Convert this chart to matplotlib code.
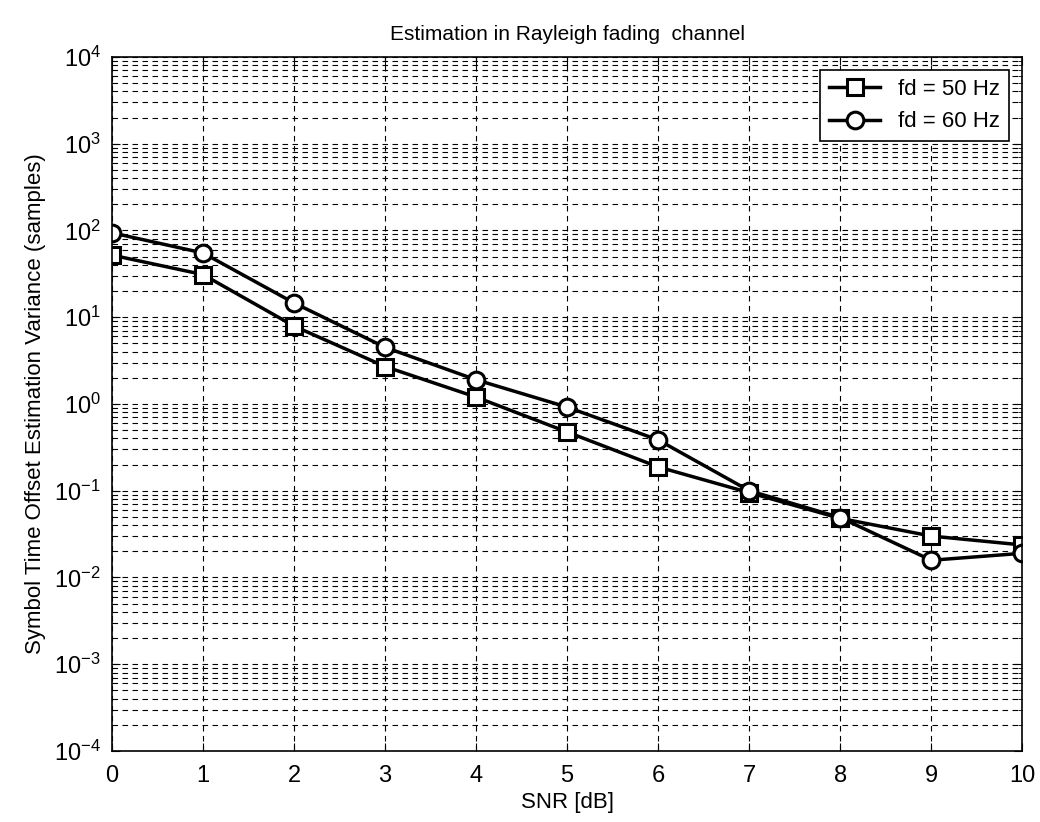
import matplotlib
matplotlib.use("Agg")
import matplotlib.pyplot as plt
from matplotlib.ticker import LogLocator, NullFormatter

plt.rcParams['font.family'] = ['Liberation Sans', 'DejaVu Sans']
plt.rcParams['mathtext.fontset'] = 'custom'
plt.rcParams['mathtext.rm'] = 'Liberation Sans'
plt.rcParams['mathtext.it'] = 'Liberation Sans'
plt.rcParams['mathtext.default'] = 'regular'

snr = [0, 1, 2, 3, 4, 5, 6, 7, 8, 9, 10]
var_fd50 = [52, 31, 7.9, 2.7, 1.2, 0.475, 0.188, 0.095, 0.048, 0.030, 0.0237]
var_fd60 = [94, 55, 14.6, 4.5, 1.9, 0.92, 0.385, 0.10, 0.049, 0.0158, 0.019]

fig = plt.figure(figsize=(10.4, 8.22), dpi=100)
ax = fig.add_axes([0.1077, 0.0864, 0.8753, 0.8443])

ax.semilogy(snr, var_fd50, color='black', lw=2.5, marker='s', ms=12,
            mfc='white', mew=2.2, label='fd = 50 Hz')
ax.semilogy(snr, var_fd60, color='black', lw=2.5, marker='o', ms=12,
            mfc='white', mew=2.2, label='fd = 60 Hz')

ax.set_xlim(0, 10)
ax.set_ylim(1e-4, 1e4)
ax.set_xticks(range(0, 11))
ax.yaxis.set_major_locator(LogLocator(base=10, numticks=20))
ax.yaxis.set_minor_locator(LogLocator(base=10, subs=range(2, 10), numticks=20))
ax.yaxis.set_minor_formatter(NullFormatter())

ax.grid(True, which='major', linestyle=(0, (5, 4)), color='black', lw=0.8)
ax.grid(True, which='minor', axis='y', linestyle=(0, (5, 4)), color='black', lw=0.8)
ax.tick_params(which='both', direction='in', top=True, right=True, labelsize=17)
ax.tick_params(axis='x', pad=10)
ax.tick_params(axis='y', pad=8)
ax.tick_params(which='major', length=6)
ax.tick_params(which='minor', length=3)
for s in ax.spines.values():
    s.set_linewidth(1.2)

ax.set_title('Estimation in Rayleigh fading  channel', fontsize=15, pad=12)
ax.set_xlabel('SNR [dB]', fontsize=16, labelpad=4)
ax.set_ylabel('Symbol Time Offset Estimation Variance (samples)', fontsize=16, labelpad=6)

leg = ax.legend(loc='upper right', fontsize=16, fancybox=False, framealpha=1,
                edgecolor='black', handlelength=2.3, borderaxespad=0.6)
leg.get_frame().set_linewidth(1.2)

fig.savefig('out.png', dpi=100)
